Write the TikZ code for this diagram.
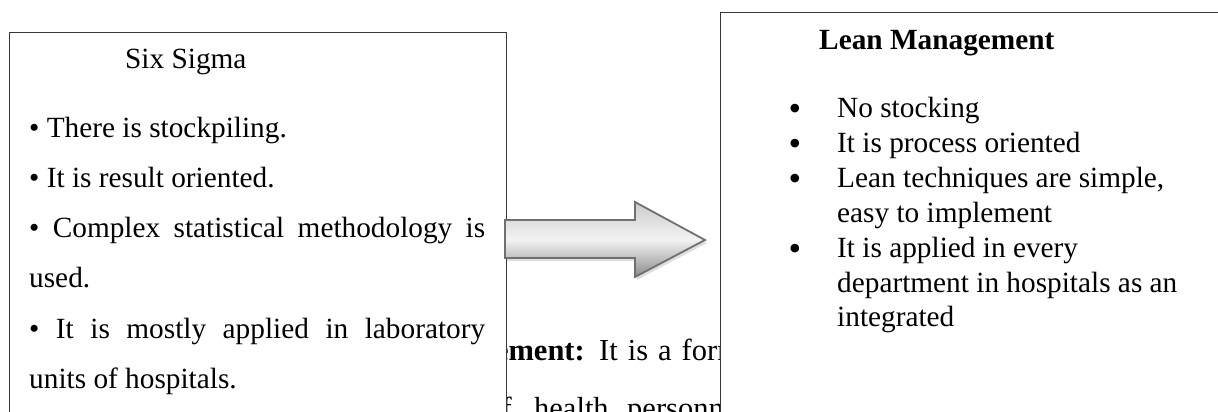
\documentclass[tikz,border=0pt]{standalone}
\usepackage{fontspec}
\setmainfont{Liberation Serif}
\usetikzlibrary{shadows}
\tikzset{
  panel/.style={draw=black!78, line width=1.3pt, fill=white, inner sep=0pt, anchor=north west},
  txt/.style={inner sep=0pt, anchor=base west, font=\fontsize{29.3}{35}\selectfont},
  bgtxt/.style={inner sep=0pt, font=\fontsize{30.5}{36}\selectfont},
  blt/.style={inner sep=0pt, anchor=base, font=\fontsize{36}{36}\selectfont},
  blockarrow/.style={draw=black!56, line width=1.8pt, top color=black!20, bottom color=black!45, middle color=white!95!black,
    drop shadow={shadow xshift=2pt, shadow yshift=-3pt, opacity=0.25}}
}
\begin{document}
\begin{tikzpicture}[x=1pt,y=-1pt]
\useasboundingbox (0,0) rectangle (1218,412);
\clip (0,0) rectangle (1218,412);
\fill[white] (0,0) rectangle (1218,412);

% text of the page behind the boxes
\node[bgtxt, anchor=base east] (bg1) at (585,360) {\textbf{Lean Management:}};
\node[bgtxt, anchor=base west] (bg2) at (599,360) {\spaceskip=10pt It is a form of the};
\node[bgtxt, anchor=base east] (bg3) at (512,418) {of};
\node[bgtxt, anchor=base west] (bg4) at (534,418) {health};
\node[bgtxt, anchor=base west] (bg5) at (627,418) {personnel};

% left box
\node[panel, minimum width=497pt, minimum height=450pt] (six) at (9,32) {};
\node[txt] (sixt) at (125,69) {Six Sigma};
\node[txt] (s1) at (29,137) {• There is stockpiling.};
\node[txt] (s2) at (29,187) {• It is result oriented.};
\node[txt] (s3) at (29,237) {\makebox[456pt][s]{• Complex statistical methodology is}};
\node[txt] (s3b) at (29,287) {used.};
\node[txt] (s4) at (29,338) {\makebox[456pt][s]{• It is mostly applied in laboratory}};
\node[txt] (s4b) at (29,388) {units of hospitals.};

% right box
\node[panel, minimum width=520pt, minimum height=450pt] (lean) at (720,12) {};
\node[txt, font=\fontsize{29.3}{35}\selectfont\bfseries] (leant) at (819,50) {Lean Management};
\node[blt] (b1) at (795,120) {•};
\node[txt] (l1) at (837,117.5) {No stocking};
\node[blt] (b2) at (795,155) {•};
\node[txt] (l2) at (837,152.4) {It is process oriented};
\node[blt] (b3) at (795,190) {•};
\node[txt] (l3) at (837,187.3) {Lean techniques are simple,};
\node[txt] (l3b) at (837,222.2) {easy to implement};
\node[blt] (b4) at (795,260) {•};
\node[txt] (l4) at (837,257.1) {It is applied in every};
\node[txt] (l4b) at (837,292) {department in hospitals as an};
\node[txt] (l4c) at (837,326.9) {integrated};

% block arrow
\path[blockarrow] (505,220) -- (635,220) -- (635,202) -- (705,240) -- (635,277) -- (635,258) -- (505,258) -- cycle;
\end{tikzpicture}
\end{document}
